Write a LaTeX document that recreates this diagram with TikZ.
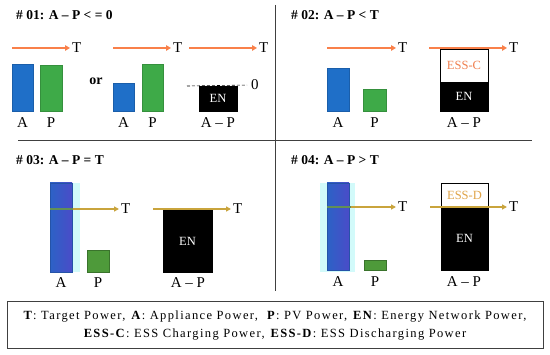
\documentclass[tikz,border=0pt]{standalone}
\usepackage{fontspec}
\setmainfont{Liberation Serif}
\newfontfamily\legfont{Liberation Serif}[LetterSpace=11]
\usetikzlibrary{arrows.meta}
\definecolor{barblue}{HTML}{1F6FC8}
\definecolor{bargreen}{HTML}{3EAA48}
\definecolor{olivegreen}{HTML}{4E9A3A}
\definecolor{orarrow}{HTML}{F9804A}
\definecolor{goldarrow}{HTML}{C9A43C}
\definecolor{essc}{HTML}{F08050}
\definecolor{essd}{HTML}{E0A448}
\definecolor{glow}{HTML}{D2FAFA}
\definecolor{divider}{HTML}{404040}
\definecolor{blueA}{HTML}{2C62C6}
\definecolor{blueB}{HTML}{4A4CC8}
\tikzset{
  bar/.style={inner sep=0pt, outer sep=0pt, anchor=south west, line width=0.5pt},
  bluebar/.style={bar, fill=barblue, draw=barblue!85!black},
  greenbar/.style={bar, fill=bargreen, draw=bargreen!85!black},
  oliveP/.style={bar, fill=olivegreen, draw=olivegreen!75!black},
  shadedA/.style={bar, left color=blueA, right color=blueB, draw=blueA!85!black},
  glowbar/.style={bar, fill=glow},
  enbox/.style={bar, fill=black, draw=black, text=white, font=\fontsize{12.5}{14}\selectfont},
  essbox/.style={bar, fill=white, draw=black, line width=0.8pt, font=\fontsize{12.5}{14}\selectfont},
  lbl/.style={inner sep=1pt, font=\fontsize{15}{17}\selectfont},
  tlbl/.style={inner sep=1pt, anchor=west, font=\fontsize{15}{17}\selectfont},
  ttl/.style={inner sep=0pt, anchor=west, font=\bfseries\fontsize{13.5}{15}\selectfont},
  oarr/.style={draw=orarrow, line width=1.8pt, -{Triangle[length=5pt,width=5.5pt]}, shorten >=1pt},
  garr/.style={draw=goldarrow, line width=1.5pt, -{Triangle[length=5pt,width=5pt]}, shorten >=1pt},
  midline/.style={draw=olivegreen!60!gray, line width=1.5pt},
  dividerline/.style={draw=divider, line width=1pt},
}
\begin{document}
\begin{tikzpicture}[x=1pt,y=-1pt]
\useasboundingbox[fill=white] (0,0) rectangle (550,355);

% dividers
\coordinate (vt) at (275.5,5);
\coordinate (vb) at (275.5,291);
\coordinate (hl) at (18,141);
\coordinate (hr) at (532,141);
\draw[dividerline] (vt) -- (vb);
\draw[dividerline] (hl) -- (hr);

%================ Panel 1
\node[ttl] (t1) at (16,15) {\# 01: A – P < = 0};
\node[bluebar, minimum width=21pt, minimum height=47pt] (a1) at (12,111) {};
\node[greenbar, minimum width=22pt, minimum height=46pt] (p1) at (40,111) {};
\node[lbl] (la1) at (22.5,123) {A};
\node[lbl] (lp1) at (51,123) {P};
\coordinate (s1) at (12,48);
\node[tlbl] (T1) at (71,48) {T};
\draw[oarr] (s1) -- (T1.west);
\node[inner sep=0pt, font=\bfseries\fontsize{14}{16}\selectfont] (or) at (96,81) {or};
\node[bluebar, minimum width=21pt, minimum height=28pt] (a2) at (113,111) {};
\node[greenbar, minimum width=21pt, minimum height=47pt] (p2) at (142,111) {};
\node[lbl] (la2) at (123.5,123) {A};
\node[lbl] (lp2) at (152.5,123) {P};
\coordinate (s2) at (113,48);
\node[tlbl] (T2) at (172,48) {T};
\draw[oarr] (s2) -- (T2.west);
\coordinate (s3) at (189,48);
\node[tlbl] (T3) at (258,48) {T};
\draw[oarr] (s3) -- (T3.west);
\node[enbox, minimum width=38pt, minimum height=25pt] (en1) at (199,111) {EN};
\node[lbl, anchor=west] (zero) at (250,85) {0};
\coordinate (d1) at (187,86);
\draw[densely dashed, line width=0.6pt, shorten >=3pt] (d1) -- (zero.west);
\node[lbl] (lap1) at (218,123) {A – P};

%================ Panel 2
\node[ttl] (t2) at (291,15) {\# 02: A – P < T};
\node[bluebar, minimum width=22pt, minimum height=43pt] (a3) at (327,111) {};
\node[greenbar, minimum width=23pt, minimum height=22pt] (p3) at (363,111) {};
\node[lbl] (la3) at (338,123) {A};
\node[lbl] (lp3) at (374.5,123) {P};
\coordinate (s4) at (327,48);
\node[tlbl] (T4) at (397,48) {T};
\draw[oarr] (s4) -- (T4.west);
\node[enbox, minimum width=48pt, minimum height=29pt] (en2) at (440,111) {EN};
\node[essbox, minimum width=48pt, minimum height=33pt, text=essc] (essc) at (440,82) {ESS-C};
\coordinate (s5) at (429,48);
\node[tlbl] (T5) at (508,48) {T};
\draw[oarr] (s5) -- (T5.west);
\node[lbl] (lap2) at (464,123) {A – P};

%================ Panel 3
\node[ttl] (t3) at (16,160) {\# 03: A – P = T};
\node[glowbar, minimum width=8pt, minimum height=89pt] (g3) at (72,272) {};
\node[shadedA, minimum width=22pt, minimum height=89pt] (a5) at (50,272) {};
\node[oliveP, minimum width=22pt, minimum height=22pt] (p5) at (87,272) {};
\node[lbl] (la5) at (61,283) {A};
\node[lbl] (lp5) at (98,283) {P};
\coordinate (m5) at (50,209);
\coordinate (s6) at (73,209);
\node[tlbl] (T6) at (120,209) {T};
\draw[midline] (m5) -- (s6);
\draw[garr] (s6) -- (T6.west);
\node[enbox, minimum width=49pt, minimum height=62pt] (en3) at (163,272) {EN};
\coordinate (s7) at (153,209);
\node[tlbl] (T7) at (232,209) {T};
\draw[garr] (s7) -- (T7.west);
\node[lbl] (lap3) at (188,283) {A – P};

%================ Panel 4
\node[ttl] (t4) at (291,160) {\# 04: A – P > T};
\node[glowbar, minimum width=35pt, minimum height=89pt] (g4) at (320,272) {};
\node[shadedA, minimum width=22pt, minimum height=87pt] (a6) at (327,270) {};
\node[oliveP, minimum width=22pt, minimum height=10pt] (p6) at (364,270) {};
\node[lbl] (la6) at (338,282) {A};
\node[lbl] (lp6) at (375,282) {P};
\coordinate (m6) at (327,207);
\coordinate (s8) at (351,207);
\node[tlbl] (T8) at (397,207) {T};
\draw[midline] (m6) -- (s8);
\draw[garr] (s8) -- (T8.west);
\node[enbox, minimum width=47pt, minimum height=63pt] (en4) at (441,270) {EN};
\node[essbox, minimum width=47pt, minimum height=24pt, text=essd] (essd) at (441,207) {ESS-D};
\coordinate (s9) at (430,207);
\node[tlbl] (T9) at (508,207) {T};
\draw[garr] (s9) -- (T9.west);
\node[lbl] (lap4) at (464,282) {A – P};

%================ Legend
\node[draw=divider, line width=1pt, minimum width=536pt, minimum height=47pt, inner sep=0pt] (leg) at (275,325.5) {};
\node[align=center, inner sep=0pt, font=\legfont\fontsize{12.5}{18}\selectfont] (legtxt) at (275,326) {\textbf{T}: Target Power, \textbf{A}: Appliance Power, \ \textbf{P}: PV Power, \textbf{EN}: Energy Network Power,\\ \textbf{ESS-C}: ESS Charging Power, \textbf{ESS-D}: ESS Discharging Power};
\end{tikzpicture}
\end{document}
